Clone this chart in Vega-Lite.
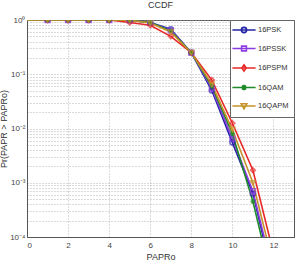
{
  "$schema": "https://vega.github.io/schema/vega-lite/v6.json",
  "autosize": "none",
  "width": 267,
  "height": 217,
  "padding": {"left": 27, "top": 20, "right": 5, "bottom": 29},
  "background": "white",
  "config": {
    "font": "Liberation Sans",
    "view": {"stroke": "#555", "strokeWidth": 1},
    "axis": {
      "labelFont": "Liberation Sans",
      "titleFont": "Liberation Sans",
      "labelFontSize": 8,
      "labelColor": "#444",
      "titleColor": "#333",
      "titleFontWeight": "normal",
      "titleFontSize": 9,
      "domainColor": "#555",
      "ticks": false,
      "grid": true,
      "gridColor": "#999",
      "gridDash": [1, 2],
      "gridOpacity": 0.9,
      "gridWidth": 0.8
    },
    "legend": {
      "title": null,
      "orient": "top-right",
      "offset": 0,
      "padding": 5,
      "strokeColor": "#666",
      "fillColor": "white",
      "labelFont": "Liberation Sans",
      "labelFontSize": 7.5,
      "labelColor": "#333",
      "symbolSize": 64,
      "symbolStrokeWidth": 1.6,
      "symbolOpacity": 1,
      "symbolFillColor": "transparent",
      "symbolOffset": 4,
      "labelOffset": 9,
      "rowPadding": 6.5
    },
    "title": {"fontSize": 9, "fontWeight": "normal", "color": "#333", "font": "Liberation Sans", "offset": 6}
  },
  "title": {"text": "CCDF", "anchor": "middle"},
  "data": {
    "values": [
      {"x": 0, "series": "16PSK", "p": 1},
      {"x": 1, "series": "16PSK", "p": 1},
      {"x": 2, "series": "16PSK", "p": 1},
      {"x": 3, "series": "16PSK", "p": 1},
      {"x": 4, "series": "16PSK", "p": 1},
      {"x": 5, "series": "16PSK", "p": 0.99},
      {"x": 6, "series": "16PSK", "p": 0.9},
      {"x": 7, "series": "16PSK", "p": 0.68},
      {"x": 8, "series": "16PSK", "p": 0.25},
      {"x": 9, "series": "16PSK", "p": 0.05},
      {"x": 10, "series": "16PSK", "p": 0.0055},
      {"x": 11, "series": "16PSK", "p": 0.00063},
      {"x": 12, "series": "16PSK", "p": 0.000016},

      {"x": 0, "series": "16PSSK", "p": 1},
      {"x": 1, "series": "16PSSK", "p": 1},
      {"x": 2, "series": "16PSSK", "p": 1},
      {"x": 3, "series": "16PSSK", "p": 1},
      {"x": 4, "series": "16PSSK", "p": 1},
      {"x": 5, "series": "16PSSK", "p": 0.99},
      {"x": 6, "series": "16PSSK", "p": 0.89},
      {"x": 7, "series": "16PSSK", "p": 0.64},
      {"x": 8, "series": "16PSSK", "p": 0.25},
      {"x": 9, "series": "16PSSK", "p": 0.055},
      {"x": 10, "series": "16PSSK", "p": 0.0065},
      {"x": 11, "series": "16PSSK", "p": 0.0007},
      {"x": 12, "series": "16PSSK", "p": 0.00002},

      {"x": 0, "series": "16PSPM", "p": 1},
      {"x": 1, "series": "16PSPM", "p": 1},
      {"x": 2, "series": "16PSPM", "p": 1},
      {"x": 3, "series": "16PSPM", "p": 1},
      {"x": 4, "series": "16PSPM", "p": 1},
      {"x": 5, "series": "16PSPM", "p": 0.9},
      {"x": 6, "series": "16PSPM", "p": 0.8},
      {"x": 7, "series": "16PSPM", "p": 0.5},
      {"x": 8, "series": "16PSPM", "p": 0.25},
      {"x": 9, "series": "16PSPM", "p": 0.078},
      {"x": 10, "series": "16PSPM", "p": 0.0125},
      {"x": 11, "series": "16PSPM", "p": 0.0017},
      {"x": 12, "series": "16PSPM", "p": 0.00005},

      {"x": 0, "series": "16QAM", "p": 1},
      {"x": 1, "series": "16QAM", "p": 1},
      {"x": 2, "series": "16QAM", "p": 1},
      {"x": 3, "series": "16QAM", "p": 1},
      {"x": 4, "series": "16QAM", "p": 1},
      {"x": 5, "series": "16QAM", "p": 0.99},
      {"x": 6, "series": "16QAM", "p": 0.9},
      {"x": 7, "series": "16QAM", "p": 0.63},
      {"x": 8, "series": "16QAM", "p": 0.25},
      {"x": 9, "series": "16QAM", "p": 0.06},
      {"x": 10, "series": "16QAM", "p": 0.008},
      {"x": 11, "series": "16QAM", "p": 0.00045},
      {"x": 12, "series": "16QAM", "p": 0.000012},

      {"x": 0, "series": "16QAPM", "p": 1},
      {"x": 1, "series": "16QAPM", "p": 1},
      {"x": 2, "series": "16QAPM", "p": 1},
      {"x": 3, "series": "16QAPM", "p": 1},
      {"x": 4, "series": "16QAPM", "p": 1},
      {"x": 5, "series": "16QAPM", "p": 0.99},
      {"x": 6, "series": "16QAPM", "p": 0.88},
      {"x": 7, "series": "16QAPM", "p": 0.6},
      {"x": 8, "series": "16QAPM", "p": 0.25},
      {"x": 9, "series": "16QAPM", "p": 0.065},
      {"x": 10, "series": "16QAPM", "p": 0.0095},
      {"x": 11, "series": "16QAPM", "p": 0.001},
      {"x": 12, "series": "16QAPM", "p": 0.00003}
    ]
  },
  "encoding": {
    "x": {
      "field": "x",
      "type": "quantitative",
      "title": "PAPRo",
      "scale": {"domain": [0, 13], "nice": false},
      "axis": {"values": [0, 2, 4, 6, 8, 10, 12], "labelPadding": 4, "titlePadding": 3}
    },
    "y": {
      "field": "p",
      "type": "quantitative",
      "title": "Pr(PAPR > PAPRo)",
      "scale": {"type": "log", "domain": [0.0001, 1], "nice": false},
      "axis": {
        "values": [0.0001, 0.0002, 0.0003, 0.0004, 0.0005, 0.0006, 0.0007, 0.0008, 0.0009,
                   0.001, 0.002, 0.003, 0.004, 0.005, 0.006, 0.007, 0.008, 0.009,
                   0.01, 0.02, 0.03, 0.04, 0.05, 0.06, 0.07, 0.08, 0.09,
                   0.1, 0.2, 0.3, 0.4, 0.5, 0.6, 0.7, 0.8, 0.9, 1],
        "labelExpr": "datum.value == 1 ? '10⁰' : datum.value == 0.1 ? '10⁻¹' : datum.value == 0.01 ? '10⁻²' : datum.value == 0.001 ? '10⁻³' : datum.value == 0.0001 ? '10⁻⁴' : ''",
        "labelPadding": 2,
        "titlePadding": 1
      }
    },
    "color": {
      "field": "series",
      "type": "nominal",
      "scale": {
        "domain": ["16PSK", "16PSSK", "16PSPM", "16QAM", "16QAPM"],
        "range": ["#2424a8", "#8c3ce0", "#e82828", "#1e8a28", "#c4942a"]
      }
    }
  },
  "layer": [
    {
      "mark": {"type": "line", "strokeWidth": 1.6, "clip": true}
    },
    {
      "transform": [{"filter": "datum.x >= 1 && datum.series == '16PSK'"}],
      "mark": {"type": "point", "shape": "circle", "filled": false, "strokeWidth": 1.5, "size": 24, "clip": true}
    },
    {
      "transform": [{"filter": "datum.x >= 1 && datum.series == '16PSSK'"}],
      "mark": {"type": "point", "shape": "square", "filled": false, "strokeWidth": 1.5, "size": 24, "clip": true}
    },
    {
      "transform": [{"filter": "datum.x >= 1 && datum.series == '16PSPM'"}],
      "mark": {"type": "point", "shape": "diamond", "filled": false, "strokeWidth": 1.5, "size": 24, "clip": true}
    },
    {
      "transform": [{"filter": "datum.x >= 1 && datum.series == '16QAM'"}],
      "mark": {"type": "point", "shape": "M-1,0H1M0,-1V1M-0.7,-0.7L0.7,0.7M-0.7,0.7L0.7,-0.7", "filled": false, "strokeWidth": 1.5, "size": 24, "clip": true}
    },
    {
      "transform": [{"filter": "datum.x >= 1 && datum.series == '16QAPM'"}],
      "mark": {"type": "point", "shape": "triangle-down", "filled": false, "strokeWidth": 1.5, "size": 24, "clip": true}
    },
    {
      "transform": [{"filter": "datum.x == 0"}],
      "mark": {"type": "point", "filled": false, "opacity": 0, "strokeWidth": 1.6},
      "encoding": {
        "shape": {
          "field": "series",
          "type": "nominal",
          "scale": {
            "domain": ["16PSK", "16PSSK", "16PSPM", "16QAM", "16QAPM"],
            "range": [
              "M-2.9,0H2.9M-0.65,0A0.65,0.65 0 1,0 0.65,0A0.65,0.65 0 1,0 -0.65,0",
              "M-2.9,0H2.9M-0.6,-0.6H0.6V0.6H-0.6Z",
              "M-2.9,0H2.9M0,-0.8L0.55,0L0,0.8L-0.55,0Z",
              "M-2.9,0H2.9M0,-0.7V0.7M-0.5,-0.5L0.5,0.5M-0.5,0.5L0.5,-0.5",
              "M-2.9,0H2.9M-0.7,-0.55H0.7L0,0.7Z"
            ]
          }
        }
      }
    }
  ]
}
